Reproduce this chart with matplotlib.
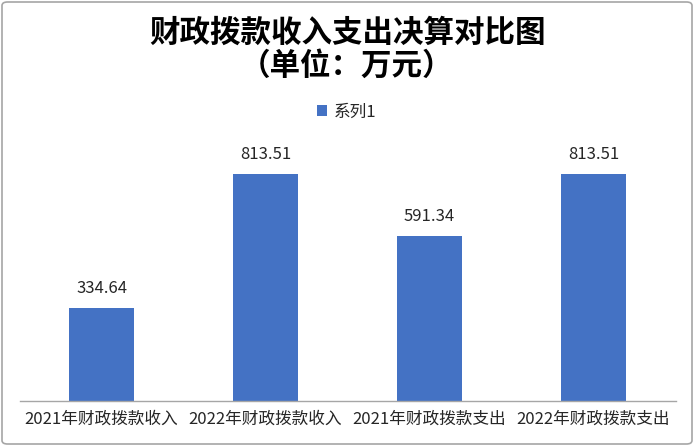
import matplotlib.pyplot as plt
from matplotlib.patches import FancyBboxPatch

plt.rcParams['font.family'] = ['Noto Sans CJK SC', 'DejaVu Sans']

# 数据
categories = ['2021年财政拨款收入', '2022年财政拨款收入', '2021年财政拨款支出', '2022年财政拨款支出']
values = [334.64, 813.51, 591.34, 813.51]
series_name = '系列1'

W, H = 694, 446
fig = plt.figure(figsize=(W / 100, H / 100), dpi=100)
ax = fig.add_axes([19.5 / W, (H - 401) / H, 656 / W, 251 / H])

x = range(len(categories))
bars = ax.bar(x, values, width=0.4, color='#4472C4', label=series_name)
for b, v in zip(bars, values):
    ax.annotate(f'{v:.2f}', (b.get_x() + b.get_width() / 2, v), xytext=(0, 8),
                textcoords='offset points', ha='center', va='bottom',
                fontsize=12, color='#262626')

ax.set_xlim(-0.5, len(categories) - 0.5)
ax.set_ylim(0, 900)
ax.set_xticks(list(x))
ax.set_xticklabels(categories, fontsize=12, color='#262626')
ax.tick_params(axis='x', length=0, pad=7)
ax.set_yticks([])
for s in ['top', 'right', 'left']:
    ax.spines[s].set_visible(False)
ax.spines['bottom'].set_color('#A6A6A6')
ax.spines['bottom'].set_linewidth(1)

# 标题和图例
fig.text(0.5, 1 - 33 / H, '财政拨款收入支出决算对比图', ha='center', va='center',
         fontsize=22, fontweight='bold', color='#000000')
fig.text(0.5, 1 - 66 / H, '（单位：万元）', ha='center', va='center',
         fontsize=22, fontweight='bold', color='#000000')
fig.legend(loc='center', bbox_to_anchor=(0.5, 1 - 112 / H), frameon=False,
           fontsize=12, handlelength=0.6, handleheight=0.6, handletextpad=0.4,
           labelcolor='#262626')

# 外框
fig.patches.append(FancyBboxPatch((2 / W, 2 / H), 1 - 4 / W, 1 - 4 / H,
                                  boxstyle='round,pad=0,rounding_size=0.008',
                                  transform=fig.transFigure, fill=False,
                                  edgecolor='#A6A6A6', linewidth=1.2))

fig.savefig('out.png', dpi=100)
